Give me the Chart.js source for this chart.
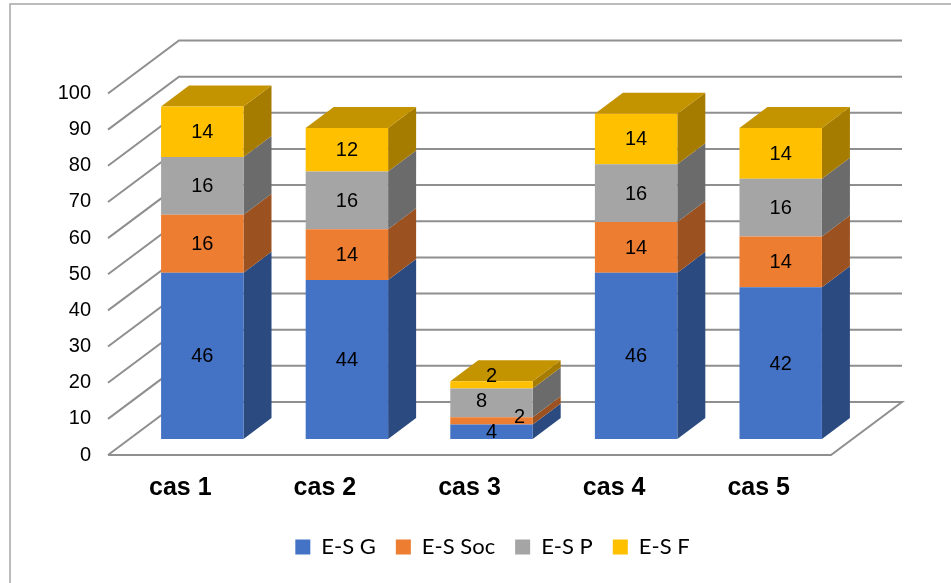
<!DOCTYPE html>
<html>
<head>
<meta charset="utf-8">
<title>E-S par cas</title>
<script src="https://cdn.jsdelivr.net/npm/chart.js@4"></script>
<style>
  html, body { margin: 0; padding: 0; background: #fff; }
  canvas { display: block; }
</style>
</head>
<body>
<canvas id="cases-chart" width="951" height="583"></canvas>
<script>
// stacked columns with a drawn 3D box look
const cases = ['cas 1', 'cas 2', 'cas 3', 'cas 4', 'cas 5'];
const esG = [46, 44, 4, 46, 42];
const esSoc = [16, 14, 2, 14, 14];
const esP = [16, 16, 8, 16, 16];
const esF = [14, 12, 2, 14, 14];

const faceColours = ['#4472C4', '#ED7D31', '#A5A5A5', '#FFC000'];
const sideColours = ['#2A4A80', '#9C5220', '#6B6B6B', '#A67C00'];
const topColour = '#C49300';
const gridColour = '#8F8F8F';

// floor depth, and how far the columns sit into it
const depth = { x: 71, y: -53 };
const inset = { x: 22, y: -16 };
const boxDepth = { x: 28, y: -21 };

// the labels of the short column are nudged so they don't collide: "dataset:case"
const labelShift = { '1:2': [28, -4], '2:2': [-10, -2], '3:2': [0, -9] };

function polygon(ctx, pts, colour) {
  ctx.beginPath();
  pts.forEach((p, i) => (i ? ctx.lineTo(p[0], p[1]) : ctx.moveTo(p[0], p[1])));
  ctx.closePath();
  ctx.fillStyle = colour;
  ctx.fill();
}

const box3d = {
  id: 'box3d',
  afterLayout(chart) {
    // centre the legend under the whole figure rather than the plot
    chart.legend.left += 77;
    chart.legend.right += 77;
  },
  beforeDraw(chart) {
    const { ctx, width, height } = chart;
    ctx.save();
    ctx.fillStyle = '#fff';
    ctx.fillRect(0, 0, width, height);
    ctx.strokeStyle = '#A6A6A6';
    ctx.lineWidth = 1.5;
    ctx.strokeRect(10, 4, width, height);
    ctx.restore();
  },
  beforeDatasetsDraw(chart) {
    const { ctx, chartArea } = chart;
    const y = chart.scales.y;
    const { left, right } = chartArea;

    ctx.save();
    ctx.strokeStyle = gridColour;
    ctx.lineWidth = 2;
    y.ticks.forEach(t => {
      const py = y.getPixelForValue(t.value);
      ctx.beginPath();
      ctx.moveTo(left, py);
      ctx.lineTo(left + depth.x, py + depth.y);
      ctx.lineTo(right + depth.x, py + depth.y);
      if (t.value === 0) {
        ctx.lineTo(right, py);
        ctx.lineTo(left, py);
      }
      ctx.stroke();
    });

    // side faces and the lid, behind the library's front faces
    const last = chart.data.datasets.length - 1;
    chart.data.datasets.forEach((ds, d) => {
      chart.getDatasetMeta(d).data.forEach(el => {
        const { x, y: top, base, width } = el.getProps(['x', 'y', 'base', 'width']);
        const r = x + width / 2 + inset.x;
        const l = x - width / 2 + inset.x;
        const t = top + inset.y;
        const b = base + inset.y;
        polygon(ctx, [[r, t], [r + boxDepth.x, t + boxDepth.y], [r + boxDepth.x, b + boxDepth.y], [r, b]], sideColours[d]);
        if (d === last) {
          polygon(ctx, [[l, t], [l + boxDepth.x, t + boxDepth.y], [r + boxDepth.x, t + boxDepth.y], [r, t]], topColour);
        }
      });
    });
    ctx.restore();

    ctx.save();
    ctx.translate(inset.x, inset.y);
  },
  afterDatasetsDraw(chart) {
    const { ctx } = chart;
    ctx.restore();

    ctx.save();
    ctx.fillStyle = '#000';
    ctx.font = '20px "Liberation Sans", Arial, sans-serif';
    ctx.textAlign = 'center';
    ctx.textBaseline = 'middle';
    chart.data.datasets.forEach((ds, d) => {
      chart.getDatasetMeta(d).data.forEach((el, i) => {
        const { x, y, base } = el.getProps(['x', 'y', 'base']);
        const shift = labelShift[d + ':' + i] || [0, 0];
        ctx.fillText(ds.data[i], x + inset.x + shift[0], (y + base) / 2 + inset.y + shift[1] + 1);
      });
    });
    ctx.restore();
  }
};

const makeSet = (label, data, i) => ({
  label,
  data,
  backgroundColor: faceColours[i],
  borderWidth: 0,
  clip: false,
  categoryPercentage: 0.57,
  barPercentage: 1
});

new Chart(document.getElementById('cases-chart').getContext('2d'), {
  type: 'bar',
  data: {
    labels: cases,
    datasets: [
      makeSet('E-S G', esG, 0),
      makeSet('E-S Soc', esSoc, 1),
      makeSet('E-S P', esP, 2),
      makeSet('E-S F', esF, 3)
    ]
  },
  options: {
    responsive: false,
    animation: false,
    layout: { padding: { top: 93.5, right: 120, bottom: 15, left: 0 } },
    plugins: {
      tooltip: { enabled: false },
      legend: {
        position: 'bottom',
        labels: {
          boxWidth: 15,
          boxHeight: 15,
          padding: 20,
          color: '#000',
          font: { family: 'Lato', size: 22 }
        }
      }
    },
    scales: {
      x: {
        stacked: true,
        border: { display: false },
        grid: { display: false, drawTicks: false },
        ticks: {
          color: '#000',
          padding: 18,
          maxRotation: 0,
          font: { family: '"Liberation Sans"', size: 25, weight: 'bold' }
        },
        afterFit(scale) { scale.height = 61; }
      },
      y: {
        stacked: true,
        min: 0,
        max: 100,
        border: { display: false },
        grid: { display: false, drawTicks: false },
        ticks: {
          stepSize: 10,
          color: '#000',
          padding: 17,
          font: { family: '"Liberation Sans"', size: 20 }
        },
        afterFit(scale) { scale.width = 108; }
      }
    }
  },
  plugins: [box3d]
});
</script>
</body>
</html>
